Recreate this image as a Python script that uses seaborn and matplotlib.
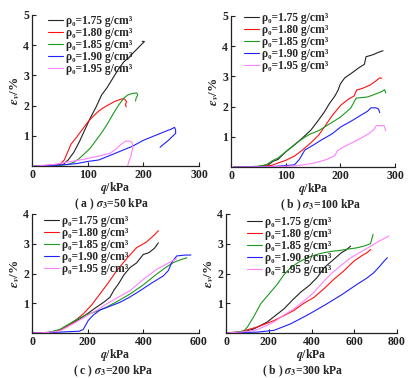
import numpy as np
import pandas as pd
import matplotlib
matplotlib.use("Agg")
import matplotlib.pyplot as plt
import seaborn as sns

sns.set_theme(style="ticks")
plt.rcParams["font.family"] = ["Liberation Serif", "DejaVu Serif", "Noto Sans CJK SC"]
plt.rcParams["font.weight"] = "bold"
plt.rcParams["mathtext.fontset"] = "stix"

densities = ["1.75", "1.80", "1.85", "1.90", "1.95"]
colors = ["#222222", "#ff1010", "#1a9a1a", "#2020ff", "#ff80ff"]

# ---- (a) sigma3 = 50 kPa
a175_q = [5, 30, 50, 56, 65, 75, 85, 95, 105, 115, 125, 135, 145, 155, 165, 175, 182, 190, 198, 202, 198]
a175_e = [0, 0.02, 0.04, 0.05, 0.2, 0.45, 0.8, 1.2, 1.6, 1.95, 2.35, 2.6, 2.9, 3.2, 3.45, 3.6, 3.75, 3.9, 4.05, 4.12, 4.13]
a180_q = [5, 30, 50, 58, 65, 70, 80, 90, 100, 110, 120, 130, 140, 150, 161, 166, 170, 168, 169]
a180_e = [0, 0.02, 0.05, 0.2, 0.5, 0.72, 0.95, 1.2, 1.45, 1.65, 1.82, 1.95, 2.05, 2.15, 2.22, 2.22, 2.13, 2.05, 1.96]
a185_q = [5, 40, 65, 75, 85, 95, 105, 115, 125, 135, 145, 155, 165, 172, 180, 188, 190, 187, 186]
a185_e = [0, 0.02, 0.05, 0.12, 0.25, 0.42, 0.6, 0.85, 1.1, 1.38, 1.7, 2.0, 2.25, 2.35, 2.4, 2.42, 2.35, 2.25, 2.15]
a190_q = [5, 50, 80, 100, 120, 140, 160, 180, 200, 220, 240, 250, 256, 258, 258, 245, 235, 230]
a190_e = [0, 0.03, 0.08, 0.15, 0.2, 0.35, 0.5, 0.65, 0.85, 1.0, 1.15, 1.22, 1.28, 1.2, 1.08, 0.85, 0.7, 0.62]
a195_q = [5, 40, 60, 80, 100, 120, 140, 150, 160, 168, 175, 180, 181, 178, 174, 172]
a195_e = [0, 0.05, 0.12, 0.18, 0.25, 0.33, 0.42, 0.55, 0.72, 0.82, 0.83, 0.78, 0.6, 0.35, 0.15, 0.02]

# ---- (b) sigma3 = 100 kPa
b175_q = [5, 50, 68, 78, 86, 100, 116, 130, 146, 160, 171, 180, 190, 196, 200, 208, 220, 235, 244, 247, 260, 270, 278]
b175_e = [0, 0.02, 0.07, 0.2, 0.25, 0.5, 0.73, 0.95, 1.22, 1.55, 1.83, 2.1, 2.35, 2.55, 2.75, 2.95, 3.1, 3.3, 3.4, 3.65, 3.72, 3.8, 3.85]
b180_q = [5, 60, 75, 86, 100, 116, 130, 146, 160, 171, 185, 201, 215, 225, 230, 240, 255, 265, 272, 276]
b180_e = [0, 0.02, 0.06, 0.13, 0.22, 0.36, 0.55, 0.8, 1.05, 1.33, 1.7, 2.05, 2.25, 2.35, 2.55, 2.6, 2.72, 2.85, 2.95, 2.94]
b185_q = [5, 50, 65, 75, 86, 104, 120, 136, 146, 160, 177, 200, 219, 229, 240, 250, 265, 276, 281, 283]
b185_e = [0, 0.02, 0.08, 0.2, 0.3, 0.56, 0.8, 1.0, 1.1, 1.2, 1.39, 1.65, 1.95, 2.28, 2.3, 2.32, 2.42, 2.5, 2.56, 2.45]
b190_q = [5, 80, 116, 125, 135, 150, 165, 185, 201, 220, 238, 250, 256, 265, 270, 272]
b190_e = [0, 0.02, 0.07, 0.25, 0.56, 0.72, 0.89, 1.1, 1.33, 1.52, 1.72, 1.85, 1.96, 1.96, 1.92, 1.8]
b195_q = [5, 80, 120, 150, 175, 190, 195, 210, 230, 250, 262, 266, 280, 283]
b195_e = [0, 0.01, 0.04, 0.12, 0.25, 0.38, 0.55, 0.7, 0.88, 1.08, 1.25, 1.37, 1.37, 1.2]

# ---- (c) sigma3 = 200 kPa
c175_q = [5, 60, 100, 140, 184, 232, 260, 280, 295, 310, 330, 352, 375, 400, 420, 440, 454]
c175_e = [0, 0.02, 0.1, 0.3, 0.55, 0.87, 1.05, 1.2, 1.45, 1.64, 1.95, 2.2, 2.35, 2.64, 2.7, 2.85, 3.03]
c180_q = [5, 60, 80, 125, 150, 184, 215, 244, 275, 304, 340, 376, 410, 440, 454]
c180_e = [0, 0.01, 0.03, 0.2, 0.38, 0.64, 0.95, 1.31, 1.7, 2.09, 2.5, 2.87, 3.05, 3.3, 3.44]
c185_q = [5, 60, 100, 125, 160, 196, 230, 268, 310, 352, 400, 448, 480, 508, 530, 556]
c185_e = [0, 0.02, 0.12, 0.26, 0.45, 0.62, 0.72, 0.87, 1.08, 1.31, 1.62, 1.98, 2.2, 2.37, 2.45, 2.53]
c190_q = [5, 100, 170, 184, 202, 220, 244, 280, 316, 350, 388, 430, 472, 490, 502, 520, 550, 571]
c190_e = [0, 0.03, 0.06, 0.12, 0.42, 0.6, 0.77, 0.9, 1.03, 1.2, 1.42, 1.68, 1.92, 2.1, 2.37, 2.59, 2.62, 2.62]
c195_q = [5, 60, 100, 148, 180, 208, 240, 268, 310, 352, 400, 448, 490, 520]
c195_e = [0, 0.02, 0.07, 0.31, 0.48, 0.64, 0.8, 0.98, 1.2, 1.42, 1.8, 2.14, 2.35, 2.5]

# ---- (d) sigma3 = 300 kPa
d175_q = [5, 60, 90, 131, 193, 230, 271, 310, 349, 390, 427, 460, 505, 540, 560, 583]
d175_e = [0, 0.02, 0.05, 0.14, 0.37, 0.58, 0.81, 1.1, 1.37, 1.6, 1.87, 2.2, 2.48, 2.7, 2.78, 2.92]
d180_q = [5, 70, 146, 225, 270, 318, 360, 412, 460, 505, 550, 599, 640, 660, 677]
d180_e = [0, 0.05, 0.2, 0.42, 0.58, 0.76, 0.98, 1.2, 1.5, 1.81, 2.08, 2.42, 2.62, 2.7, 2.81]
d185_q = [5, 50, 84, 100, 130, 162, 200, 240, 270, 303, 340, 380, 420, 458, 500, 537, 570, 610, 645, 676, 688]
d185_e = [0, 0.03, 0.07, 0.2, 0.55, 0.98, 1.3, 1.64, 1.95, 2.2, 2.38, 2.53, 2.63, 2.7, 2.75, 2.78, 2.82, 2.86, 2.92, 3.0, 3.31]
d190_q = [5, 100, 146, 225, 303, 380, 458, 540, 614, 660, 692, 720, 740, 755]
d190_e = [0, 0.02, 0.03, 0.09, 0.31, 0.6, 0.92, 1.28, 1.64, 1.85, 2.03, 2.25, 2.42, 2.53]
d195_q = [5, 100, 146, 225, 270, 318, 365, 412, 450, 490, 540, 583, 630, 677, 720, 762]
d195_e = [0, 0.05, 0.11, 0.37, 0.6, 0.81, 1.08, 1.37, 1.68, 1.98, 2.28, 2.53, 2.72, 2.92, 3.1, 3.26]

panels = {
    "a": [(a175_q, a175_e), (a180_q, a180_e), (a185_q, a185_e), (a190_q, a190_e), (a195_q, a195_e)],
    "b": [(b175_q, b175_e), (b180_q, b180_e), (b185_q, b185_e), (b190_q, b190_e), (b195_q, b195_e)],
    "c": [(c175_q, c175_e), (c180_q, c180_e), (c185_q, c185_e), (c190_q, c190_e), (c195_q, c195_e)],
    "d": [(d175_q, d175_e), (d180_q, d180_e), (d185_q, d185_e), (d190_q, d190_e), (d195_q, d195_e)],
}
captions = {"a": "( a ) $\\sigma_3$=50 kPa", "b": "( b ) $\\sigma_3$=100 kPa",
            "c": "( c ) $\\sigma_3$=200 kPa", "d": "( b ) $\\sigma_3$=300 kPa"}
xlims = {"a": (0, 300), "b": (0, 300), "c": (0, 600), "d": (0, 800)}
xticks = {"a": [0, 100, 200, 300], "b": [0, 100, 200, 300], "c": [0, 200, 400, 600], "d": [0, 200, 400, 600, 800]}
ylims = {"a": (0, 5), "b": (0, 5), "c": (0, 4), "d": (0, 4)}
yticks = {"a": [1, 2, 3, 4, 5], "b": [1, 2, 3, 4, 5], "c": [1, 2, 3, 4], "d": [1, 2, 3, 4]}

W, H = 411, 378
boxes = {  # left, bottom, right, top in pixels (y from top)
    "a": (32, 166, 199, 15),
    "b": (231, 167, 395, 16),
    "c": (32, 333, 199, 214),
    "d": (226, 333, 397, 214),
}
leg_anchor = {"a": (0.066, 1.03), "b": (0.049, 1.055), "c": (0.042, 1.03), "d": (0.094, 1.02)}
cap_x = {"a": 112, "b": 321, "c": 113, "d": 303}

fig = plt.figure(figsize=(W / 100, H / 100), dpi=100)
labels = ["\u03c1\u2080=%s g/cm\u00b3" % d for d in densities]
palette = dict(zip(labels, colors))
axes = {}

for key, (l, b, r, t) in boxes.items():
    ax = fig.add_axes([l / W, 1 - b / H, (r - l) / W, (b - t) / H])
    axes[key] = ax
    rows = []
    for lab, (qs, es) in zip(labels, panels[key]):
        for i, (q, e) in enumerate(zip(qs, es)):
            rows.append({"q": q, "eps": e, "rho": lab, "order": i})
    df = pd.DataFrame(rows)
    sns.lineplot(data=df, x="q", y="eps", hue="rho", palette=palette, sort=False,
                 estimator=None, units="rho", linewidth=0.8, ax=ax, legend=True)
    ax.set_xlim(*xlims[key])
    ax.set_ylim(*ylims[key])
    ax.set_xticks(xticks[key])
    ax.set_yticks(yticks[key])
    for s in ["top", "right"]:
        ax.spines[s].set_visible(False)
    for s in ["left", "bottom"]:
        ax.spines[s].set_linewidth(0.9)
        ax.spines[s].set_color("#222222")
    ax.tick_params(direction="in", length=3, width=0.8, labelsize=8.5, pad=2, colors="#222222")
    for lbl in ax.get_xticklabels() + ax.get_yticklabels():
        lbl.set_fontweight("bold")
    ax.set_xlabel("$q$/kPa", fontsize=8.5, fontweight="bold", labelpad=-0.5)
    ax.set_ylabel("$\\varepsilon_v$/%", fontsize=9.5, fontweight="bold", labelpad=1)
    handles, labs = ax.get_legend_handles_labels()
    ax.legend(handles, labs, loc="upper left", bbox_to_anchor=leg_anchor[key], frameon=False,
              handlelength=1.3, handletextpad=0.3, labelspacing=0.0,
              borderaxespad=0.0, prop={"weight": "bold", "size": 8.3})

# place captions right beneath each x-label
fig.canvas.draw()
renderer = fig.canvas.get_renderer()
for key, ax in axes.items():
    ext = ax.xaxis.label.get_window_extent(renderer)
    top_px = ext.y0 - 0.8  # display coords, from bottom
    fig.text(cap_x[key] / W, top_px / H, captions[key], ha="center", va="top",
             fontsize=8.4, fontweight="bold")

fig.savefig("out.png", dpi=100)
